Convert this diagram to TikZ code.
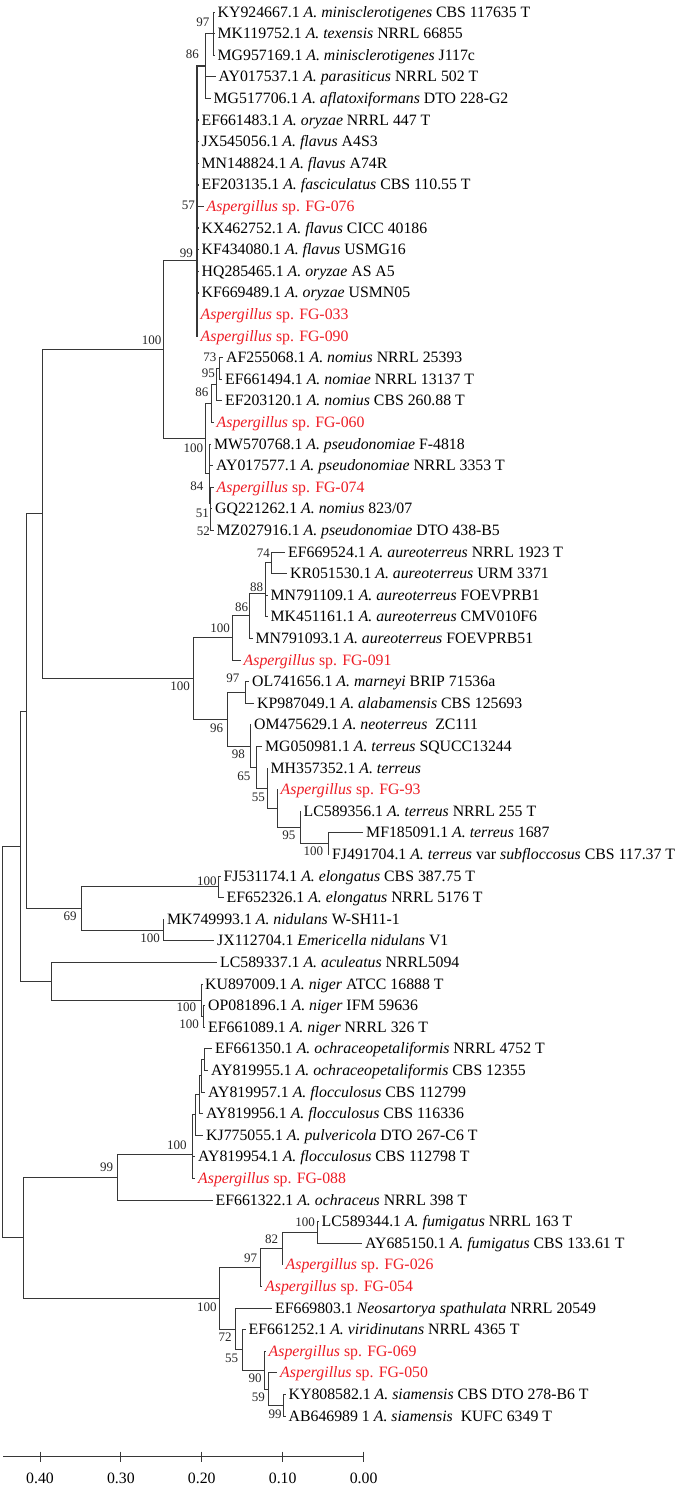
\documentclass[tikz,border=0pt]{standalone}
\usepackage{fontspec}
\setmainfont{Liberation Serif}
\usepackage{xcolor}
\usepackage{tikz}
\definecolor{isored}{RGB}{237, 28, 36}
\definecolor{branchgray}{RGB}{55, 55, 55}
\usetikzlibrary{positioning}
\newcommand{\leaffont}{\fontsize{15.8pt}{18pt}\selectfont}
\newcommand{\bootfont}{\fontsize{13pt}{15pt}\selectfont}

\begin{document}
\begin{tikzpicture}[
    x=1pt, y=-1pt,
    branch/.style={draw=branchgray, line width=0.9pt},
    leaf/.style={anchor=west, inner xsep=3pt, inner ysep=0pt,
                 text height=13pt, text depth=3pt, font=\leaffont},
    isolate/.style={leaf, text=isored},
    boot/.style={anchor=east, inner sep=0pt, font=\bootfont, text=black!85},
    scalelbl/.style={inner sep=0pt, text height=13pt, text depth=3pt, font=\leaffont}
]
    \useasboundingbox (0,0) rectangle (684,1486);

    % Leaves: section Flavi
    \node[leaf] (ky924667) at (214.5,12.0) {KY924667.1 \textit{A. minisclerotigenes} CBS 117635 T};
    \node[leaf] (mk119752) at (214.5,33.6) {MK119752.1 \textit{A. texensis} NRRL 66855};
    \node[leaf] (mg957169) at (214.5,55.2) {MG957169.1 \textit{A. minisclerotigenes} J117c};
    \node[leaf] (ay017537) at (215.5,76.8) {AY017537.1 \textit{A. parasiticus} NRRL 502 T};
    \node[leaf] (mg517706) at (210.5,98.4) {MG517706.1 \textit{A. aflatoxiformans} DTO 228-G2};
    \node[leaf] (ef661483) at (198.5,120.0) {EF661483.1 \textit{A. oryzae} NRRL 447 T};
    \node[leaf] (jx545056) at (198.5,141.6) {JX545056.1 \textit{A. flavus} A4S3};
    \node[leaf] (mn148824) at (198.5,163.2) {MN148824.1 \textit{A. flavus} A74R};
    \node[leaf] (ef203135) at (198.5,184.8) {EF203135.1 \textit{A. fasciculatus} CBS 110.55 T};
    \node[isolate] (fg076) at (203.5,206.4) {\textit{Aspergillus} sp. FG-076};
    \node[leaf] (kx462752) at (198.5,228.0) {KX462752.1 \textit{A. flavus} CICC 40186};
    \node[leaf] (kf434080) at (198.5,249.6) {KF434080.1 \textit{A. flavus} USMG16};
    \node[leaf] (hq285465) at (198.5,271.2) {HQ285465.1 \textit{A. oryzae} AS A5};
    \node[leaf] (kf669489) at (198.5,292.8) {KF669489.1 \textit{A. oryzae} USMN05};
    \node[isolate] (fg033) at (197.5,314.4) {\textit{Aspergillus} sp. FG-033};
    \node[isolate] (fg090) at (197.5,336.0) {\textit{Aspergillus} sp. FG-090};
    \node[leaf] (af255068) at (223.0,357.6) {AF255068.1 \textit{A. nomius} NRRL 25393};
    \node[leaf] (ef661494) at (222.0,379.2) {EF661494.1 \textit{A. nomiae} NRRL 13137 T};
    \node[leaf] (ef203120) at (222.0,400.8) {EF203120.1 \textit{A. nomius} CBS 260.88 T};
    \node[isolate] (fg060) at (213.5,422.4) {\textit{Aspergillus} sp. FG-060};
    \node[leaf] (mw570768) at (211.0,444.0) {MW570768.1 \textit{A. pseudonomiae} F-4818};
    \node[leaf] (ay017577) at (213.0,465.6) {AY017577.1 \textit{A. pseudonomiae} NRRL 3353 T};
    \node[isolate] (fg074) at (213.5,487.2) {\textit{Aspergillus} sp. FG-074};
    \node[leaf] (gq221262) at (212.0,508.8) {GQ221262.1 \textit{A. nomius} 823/07};
    \node[leaf] (mz027916) at (213.5,530.4) {MZ027916.1 \textit{A. pseudonomiae} DTO 438-B5};

    % Leaves: section Terrei
    \node[leaf] (ef669524) at (285.0,552.0) {EF669524.1 \textit{A. aureoterreus} NRRL 1923 T};
    \node[leaf] (kr051530) at (287.0,573.6) {KR051530.1 \textit{A. aureoterreus} URM 3371};
    \node[leaf] (mn791109) at (267.5,595.2) {MN791109.1 \textit{A. aureoterreus} FOEVPRB1};
    \node[leaf] (mk451161) at (267.5,616.8) {MK451161.1 \textit{A. aureoterreus} CMV010F6};
    \node[leaf] (mn791093) at (252.5,638.4) {MN791093.1 \textit{A. aureoterreus} FOEVPRB51};
    \node[isolate] (fg091) at (240.5,660.0) {\textit{Aspergillus} sp. FG-091};
    \node[leaf] (ol741656) at (249.0,681.6) {OL741656.1 \textit{A. marneyi} BRIP 71536a};
    \node[leaf] (kp987049) at (254.0,703.2) {KP987049.1 \textit{A. alabamensis} CBS 125693};
    \node[leaf] (om475629) at (251.0,724.8) {OM475629.1 \textit{A. neoterreus}~ ZC111};
    \node[leaf] (mg050981) at (262.0,746.4) {MG050981.1 \textit{A. terreus} SQUCC13244};
    \node[leaf] (mh357352) at (267.5,768.0) {MH357352.1 \textit{A. terreus}};
    \node[isolate] (fg93) at (277.5,789.6) {\textit{Aspergillus} sp. FG-93};
    \node[leaf] (lc589356) at (300.5,811.2) {LC589356.1 \textit{A. terreus} NRRL 255 T};
    \node[leaf] (mf185091) at (363.0,832.8) {MF185091.1 \textit{A. terreus} 1687};
    \node[leaf] (fj491704) at (329.0,854.4) {FJ491704.1 \textit{A. terreus} var \textit{subfloccosus} CBS 117.37 T};

    % Leaves: Nidulantes, Circumdati, Nigri
    \node[leaf] (fj531174) at (220.5,876.0) {FJ531174.1 \textit{A. elongatus} CBS 387.75 T};
    \node[leaf] (ef652326) at (223.5,897.6) {EF652326.1 \textit{A. elongatus} NRRL 5176 T};
    \node[leaf] (mk749993) at (164.0,919.2) {MK749993.1 \textit{A. nidulans} W-SH11-1};
    \node[leaf] (jx112704) at (214.0,940.8) {JX112704.1 \textit{Emericella nidulans} V1};
    \node[leaf] (lc589337) at (217.0,962.4) {LC589337.1 \textit{A. aculeatus} NRRL5094};
    \node[leaf] (ku897009) at (202.0,984.0) {KU897009.1 \textit{A. niger} ATCC 16888 T};
    \node[leaf] (op081896) at (205.0,1005.6) {OP081896.1 \textit{A. niger} IFM 59636};
    \node[leaf] (ef661089) at (205.0,1027.2) {EF661089.1 \textit{A. niger} NRRL 326 T};
    \node[leaf] (ef661350) at (212.0,1048.8) {EF661350.1 \textit{A. ochraceopetaliformis} NRRL 4752 T};
    \node[leaf] (ay819955) at (208.0,1070.4) {AY819955.1 \textit{A. ochraceopetaliformis} CBS 12355};
    \node[leaf] (ay819957) at (205.0,1092.0) {AY819957.1 \textit{A. flocculosus} CBS 112799};
    \node[leaf] (ay819956) at (203.0,1113.6) {AY819956.1 \textit{A. flocculosus} CBS 116336};
    \node[leaf] (kj775055) at (203.0,1135.2) {KJ775055.1 \textit{A. pulvericola} DTO 267-C6 T};
    \node[leaf] (ay819954) at (195.0,1156.8) {AY819954.1 \textit{A. flocculosus} CBS 112798 T};
    \node[isolate] (fg088) at (195.0,1178.4) {\textit{Aspergillus} sp. FG-088};
    \node[leaf] (ef661322) at (212.5,1200.0) {EF661322.1 \textit{A. ochraceus} NRRL 398 T};

    % Leaves: section Fumigati
    \node[leaf] (lc589344) at (318.5,1221.6) {LC589344.1 \textit{A. fumigatus} NRRL 163 T};
    \node[leaf] (ay685150) at (362.0,1243.2) {AY685150.1 \textit{A. fumigatus} CBS 133.61 T};
    \node[isolate] (fg026) at (282.5,1264.8) {\textit{Aspergillus} sp. FG-026};
    \node[isolate] (fg054) at (262.0,1286.4) {\textit{Aspergillus} sp. FG-054};
    \node[leaf] (ef669803) at (272.0,1308.0) {EF669803.1 \textit{Neosartorya spathulata} NRRL 20549};
    \node[leaf] (ef661252) at (245.5,1329.6) {EF661252.1 \textit{A. viridinutans} NRRL 4365 T};
    \node[isolate] (fg069) at (265.5,1351.2) {\textit{Aspergillus} sp. FG-069};
    \node[isolate] (fg050) at (277.0,1372.8) {\textit{Aspergillus} sp. FG-050};
    \node[leaf] (ky808582) at (285.5,1394.4) {KY808582.1 \textit{A. siamensis} CBS DTO 278-B6 T};
    \node[leaf] (ab646989) at (285.5,1416.0) {AB646989 1 \textit{A. siamensis}~ KUFC 6349 T};

    % Internal nodes
    \coordinate (n97) at (213.0,33.6);
    \coordinate (n86) at (205.0,66.0);
    \coordinate (fv) at (197.0,260.0);
    \coordinate (nm73) at (219.0,368.4);
    \coordinate (nm95) at (216.7,384.6);
    \coordinate (nm86) at (211.7,403.5);
    \coordinate (ps51) at (210.5,519.6);
    \coordinate (ps84) at (210.0,503.4);
    \coordinate (ps) at (209.0,473.7);
    \coordinate (np) at (205.0,438.6);
    \coordinate (fl) at (163.3,349.3);
    \coordinate (au74) at (271.7,562.8);
    \coordinate (au88) at (265.0,593.0);
    \coordinate (au86) at (249.3,615.7);
    \coordinate (au100) at (232.7,637.8);
    \coordinate (te97) at (245.0,692.4);
    \coordinate (te100) at (328.3,843.6);
    \coordinate (te95) at (300.0,827.4);
    \coordinate (teX) at (277.3,808.5);
    \coordinate (te55) at (267.5,788.3);
    \coordinate (te65) at (256.7,767.4);
    \coordinate (te98) at (250.0,746.1);
    \coordinate (te96) at (227.7,719.3);
    \coordinate (te) at (193.3,678.5);
    \coordinate (flte) at (42.3,513.9);
    \coordinate (e1) at (218.3,886.8);
    \coordinate (e2) at (163.3,930.0);
    \coordinate (el69) at (81.7,908.4);
    \coordinate (up) at (26.0,711.2);
    \coordinate (ng2) at (203.3,1016.4);
    \coordinate (ng1) at (201.7,1000.2);
    \coordinate (ac) at (51.0,981.3);
    \coordinate (upper) at (20.0,846.2);
    \coordinate (o5) at (204.0,1059.6);
    \coordinate (o4) at (201.5,1075.8);
    \coordinate (o3) at (199.0,1094.7);
    \coordinate (o2) at (195.5,1114.9);
    \coordinate (o1) at (192.7,1154.0);
    \coordinate (oc99) at (117.3,1177.0);
    \coordinate (fu100b) at (317.7,1232.4);
    \coordinate (fu82) at (282.0,1248.6);
    \coordinate (fu97) at (260.7,1267.5);
    \coordinate (fu99) at (283.3,1405.2);
    \coordinate (fu59) at (268.3,1389.0);
    \coordinate (fu90) at (264.3,1370.1);
    \coordinate (fu55) at (242.3,1349.9);
    \coordinate (fu72) at (235.7,1329.0);
    \coordinate (fu100) at (219.0,1298.2);
    \coordinate (lower) at (23.3,1237.6);
    \coordinate (root) at (2.7,1041.9);

    % Branches
    \draw[branch] (n97) |- (ky924667) (n97) |- (mk119752) (n97) |- (mg957169);
    \draw[branch] (n86) |- (n97) (n86) |- (ay017537) (n86) |- (mg517706);
    \draw[branch, line width=1.4pt] (fv) |- (n86) (fv) |- (ef661483) (fv) |- (jx545056)
        (fv) |- (mn148824) (fv) |- (ef203135) (fv) |- (fg076) (fv) |- (kx462752)
        (fv) |- (kf434080) (fv) |- (hq285465) (fv) |- (kf669489) (fv) |- (fg033) (fv) |- (fg090);
    \draw[branch] (nm73) |- (af255068) (nm73) |- (ef661494);
    \draw[branch] (nm95) |- (nm73) (nm95) |- (ef203120);
    \draw[branch] (nm86) |- (nm95) (nm86) |- (fg060);
    \draw[branch] (ps51) |- (gq221262) (ps51) |- (mz027916);
    \draw[branch] (ps84) |- (fg074) (ps84) |- (ps51);
    \draw[branch] (ps) |- (mw570768) (ps) |- (ay017577) (ps) |- (ps84);
    \draw[branch] (np) |- (nm86) (np) |- (ps);
    \draw[branch] (fl) |- (fv) (fl) |- (np);
    \draw[branch] (au74) |- (ef669524) (au74) |- (kr051530);
    \draw[branch] (au88) |- (au74) (au88) |- (mn791109) (au88) |- (mk451161);
    \draw[branch] (au86) |- (au88) (au86) |- (mn791093);
    \draw[branch] (au100) |- (au86) (au100) |- (fg091);
    \draw[branch] (te97) |- (ol741656) (te97) |- (kp987049);
    \draw[branch] (te100) |- (mf185091) (te100) |- (fj491704);
    \draw[branch] (te95) |- (lc589356) (te95) |- (te100);
    \draw[branch] (teX) |- (fg93) (teX) |- (te95);
    \draw[branch] (te55) |- (mh357352) (te55) |- (teX);
    \draw[branch] (te65) |- (mg050981) (te65) |- (te55);
    \draw[branch] (te98) |- (om475629) (te98) |- (te65);
    \draw[branch] (te96) |- (te97) (te96) |- (te98);
    \draw[branch] (te) |- (au100) (te) |- (te96);
    \draw[branch] (flte) |- (fl) (flte) |- (te);
    \draw[branch] (e1) |- (fj531174) (e1) |- (ef652326);
    \draw[branch] (e2) |- (mk749993) (e2) |- (jx112704);
    \draw[branch] (el69) |- (e1) (el69) |- (e2);
    \draw[branch] (up) |- (flte) (up) |- (el69);
    \draw[branch] (ng2) |- (op081896) (ng2) |- (ef661089);
    \draw[branch] (ng1) |- (ku897009) (ng1) |- (ng2);
    \draw[branch] (ac) |- (lc589337) (ac) |- (ng1);
    \draw[branch] (upper) |- (up) (upper) |- (ac);
    \draw[branch] (o5) |- (ef661350) (o5) |- (ay819955);
    \draw[branch] (o4) |- (o5) (o4) |- (ay819957);
    \draw[branch] (o3) |- (o4) (o3) |- (ay819956);
    \draw[branch] (o2) |- (o3) (o2) |- (kj775055);
    \draw[branch] (o1) |- (o2) (o1) |- (ay819954) (o1) |- (fg088);
    \draw[branch] (oc99) |- (o1) (oc99) |- (ef661322);
    \draw[branch] (fu100b) |- (lc589344) (fu100b) |- (ay685150);
    \draw[branch] (fu82) |- (fu100b) (fu82) |- (fg026);
    \draw[branch] (fu97) |- (fu82) (fu97) |- (fg054);
    \draw[branch] (fu99) |- (ky808582) (fu99) |- (ab646989);
    \draw[branch] (fu59) |- (fg050) (fu59) |- (fu99);
    \draw[branch] (fu90) |- (fg069) (fu90) |- (fu59);
    \draw[branch] (fu55) |- (ef661252) (fu55) |- (fu90);
    \draw[branch] (fu72) |- (ef669803) (fu72) |- (fu55);
    \draw[branch] (fu100) |- (fu97) (fu100) |- (fu72);
    \draw[branch] (lower) |- (oc99) (lower) |- (fu100);
    \draw[branch] (root) |- (upper) (root) |- (lower);

    % Bootstrap values
    \node[boot] (b-n97) at (209.5,22.0) {97};
    \node[boot] (b-n86) at (199.0,54.0) {86};
    \node[boot] (b-fg076) at (195.0,205.0) {57};
    \node[boot] (b-fv) at (193.0,253.0) {99};
    \node[boot] (b-fl) at (161.5,340.0) {100};
    \node[boot] (b-nm73) at (216.5,357.0) {73};
    \node[boot] (b-nm95) at (215.0,373.0) {95};
    \node[boot] (b-nm86) at (208.5,392.0) {86};
    \node[boot] (b-np) at (203.3,448.0) {100};
    \node[boot] (b-ps84) at (203.5,486.0) {84};
    \node[boot] (b-ps51) at (209.0,513.0) {51};
    \node[boot] (b-mz) at (210.0,531.0) {52};
    \node[boot] (b-au74) at (270.0,553.0) {74};
    \node[boot] (b-au88) at (263.3,587.0) {88};
    \node[boot] (b-au86) at (248.3,607.0) {86};
    \node[boot] (b-au100) at (230.0,628.0) {100};
    \node[boot] (b-te) at (190.0,686.0) {100};
    \node[boot] (b-te97) at (239.5,678.3) {97};
    \node[boot] (b-te96) at (223.3,728.0) {96};
    \node[boot] (b-te98) at (245.0,754.5) {98};
    \node[boot] (b-te65) at (250.5,776.0) {65};
    \node[boot] (b-te55) at (265.0,797.0) {55};
    \node[boot] (b-te95) at (295.5,835.5) {95};
    \node[boot] (b-te100) at (323.3,851.5) {100};
    \node[boot] (b-e1) at (216.7,881.0) {100};
    \node[boot] (b-el69) at (76.7,916.5) {69};
    \node[boot] (b-e2) at (160.0,938.5) {100};
    \node[boot] (b-ng1) at (196.3,1007.5) {100};
    \node[boot] (b-ng2) at (199.0,1024.5) {100};
    \node[boot] (b-o1) at (186.7,1145.0) {100};
    \node[boot] (b-oc99) at (113.3,1167.0) {99};
    \node[boot] (b-fu100b) at (315.0,1222.0) {100};
    \node[boot] (b-fu82) at (278.3,1239.0) {82};
    \node[boot] (b-fu97) at (257.3,1258.0) {97};
    \node[boot] (b-fu100) at (216.7,1307.0) {100};
    \node[boot] (b-fu72) at (231.7,1337.5) {72};
    \node[boot] (b-fu55) at (238.3,1358.0) {55};
    \node[boot] (b-fu90) at (261.7,1378.5) {90};
    \node[boot] (b-fu59) at (265.0,1397.5) {59};
    \node[boot] (b-fu99) at (281.7,1414.0) {99};

    % Scale axis
    \coordinate (ax-l) at (3.3,1456.7);
    \coordinate (ax-r) at (363.6,1456.7);
    \coordinate (t40) at (40.0,1456.7);
    \coordinate (t30) at (120.9,1456.7);
    \coordinate (t20) at (201.8,1456.7);
    \coordinate (t10) at (282.7,1456.7);
    \coordinate (t00) at (363.6,1456.7);
    \draw[branch] (ax-l) -- (ax-r);
    \draw[branch] ([yshift=5pt]t40) -- ([yshift=-5pt]t40);
    \draw[branch] ([yshift=5pt]t30) -- ([yshift=-5pt]t30);
    \draw[branch] ([yshift=5pt]t20) -- ([yshift=-5pt]t20);
    \draw[branch] ([yshift=5pt]t10) -- ([yshift=-5pt]t10);
    \draw[branch] ([yshift=5pt]t00) -- ([yshift=-5pt]t00);
    \node[scalelbl, below=14pt of t40] (l40) {0.40};
    \node[scalelbl, below=14pt of t30] (l30) {0.30};
    \node[scalelbl, below=14pt of t20] (l20) {0.20};
    \node[scalelbl, below=14pt of t10] (l10) {0.10};
    \node[scalelbl, below=14pt of t00] (l00) {0.00};
\end{tikzpicture}
\end{document}
